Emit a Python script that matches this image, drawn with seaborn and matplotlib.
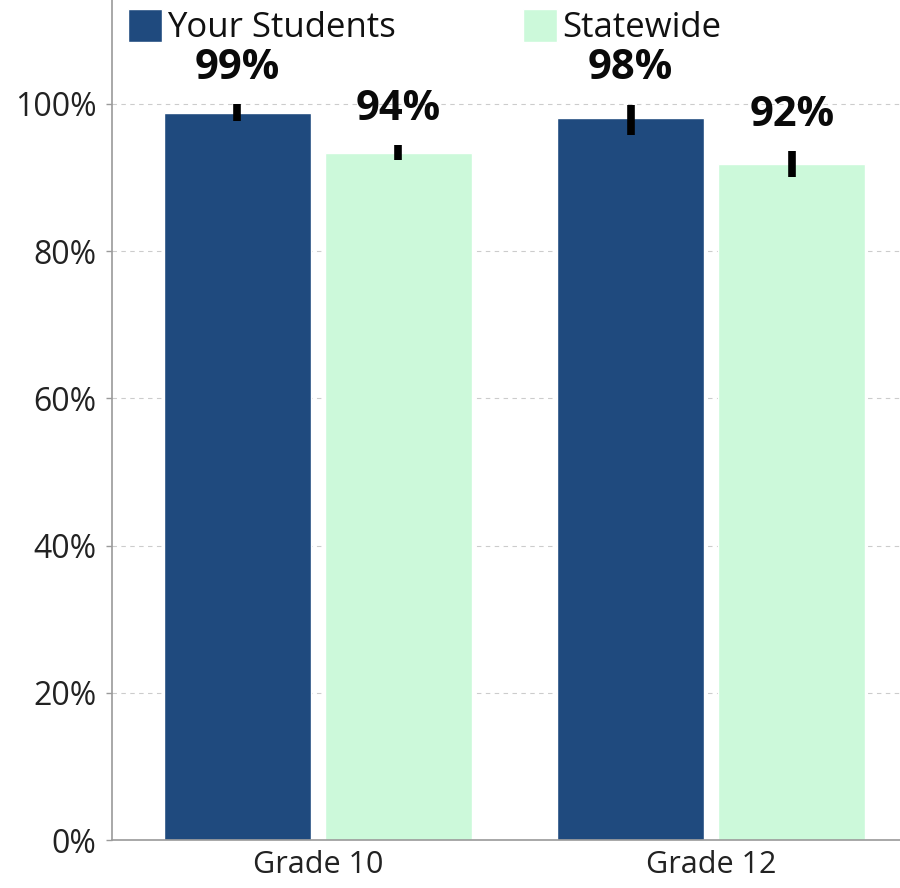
import matplotlib
matplotlib.use("Agg")
import matplotlib.pyplot as plt
import matplotlib.ticker as mticker
import pandas as pd
import seaborn as sns

# ── Data ─────────────────────────────────────────────────────────────────────
grades = ["Grade 10", "Grade 12"]
groups = ["Your Students", "Statewide"]
your_students = [0.988, 0.981]
statewide = [0.933, 0.918]
your_err_lo = [0.976, 0.957]
your_err_hi = [1.000, 0.999]
state_err_lo = [0.923, 0.901]
state_err_hi = [0.944, 0.936]
your_labels = ["99%", "98%"]
state_labels = ["94%", "92%"]

df = pd.DataFrame({
    "grade": grades * 2,
    "group": [groups[0]] * 2 + [groups[1]] * 2,
    "rate": your_students + statewide,
})

# ── Style ────────────────────────────────────────────────────────────────────
sns.set_theme(style="white")
plt.rcParams["font.family"] = ["Open Sans", "DejaVu Sans"]
palette = {"Your Students": "#1f4a7e", "Statewide": "#ccf9da"}

fig = plt.figure(figsize=(9, 8.88), dpi=100)
ax = fig.add_axes([0.1244, 0.054, 0.8756, 0.946])

sns.barplot(data=df, x="grade", y="rate", hue="group", hue_order=groups,
            order=grades, palette=palette, width=0.82, gap=0.088,
            saturation=1, errorbar=None, ax=ax, zorder=2)

# error bars + value labels
err_lo = [your_err_lo, state_err_lo]
err_hi = [your_err_hi, state_err_hi]
labels = [your_labels, state_labels]
for k, cont in enumerate(ax.containers):
    for j, bar in enumerate(cont):
        xc = bar.get_x() + bar.get_width() / 2
        ax.vlines(xc, err_lo[k][j], err_hi[k][j], color="black",
                  linewidth=5.5, zorder=3)
        ax.annotate(labels[k][j], (xc, err_hi[k][j]), xytext=(0, 11),
                    textcoords="offset points", ha="center", va="bottom",
                    fontsize=30, fontweight="bold", color="#0a0a0a")

ax.set_ylim(0, 1.141)
ax.set_xlim(-0.523, 1.48)
ax.yaxis.set_major_locator(mticker.MultipleLocator(0.2))
ax.yaxis.set_major_formatter(mticker.FuncFormatter(lambda v, _: f"{v:.0%}"))
ax.grid(axis="y", color="#cccccc", linestyle=(0, (4, 4)), linewidth=0.8,
        zorder=0)
ax.set_axisbelow(True)
ax.set_xlabel("")
ax.set_ylabel("")

for side in ["top", "right"]:
    ax.spines[side].set_visible(False)
for side in ["left", "bottom"]:
    ax.spines[side].set_color("#9a9a9a")
    ax.spines[side].set_linewidth(1.2)

ax.tick_params(axis="y", length=4, width=1, color="#9a9a9a", pad=7,
               labelsize=23, labelcolor="#222222", left=True)
ax.tick_params(axis="x", length=0, pad=7, labelsize=22, labelcolor="#222222")

ax.legend(loc="upper left", bbox_to_anchor=(128 / 900, 1 - 9 / 888),
          bbox_transform=fig.transFigure, ncol=2, frameon=False,
          fontsize=25, handlelength=0.98, handleheight=1.07,
          handletextpad=0.15, columnspacing=3.65, borderpad=0,
          borderaxespad=0, labelcolor="#111111")

fig.savefig("out.png", dpi=100)
